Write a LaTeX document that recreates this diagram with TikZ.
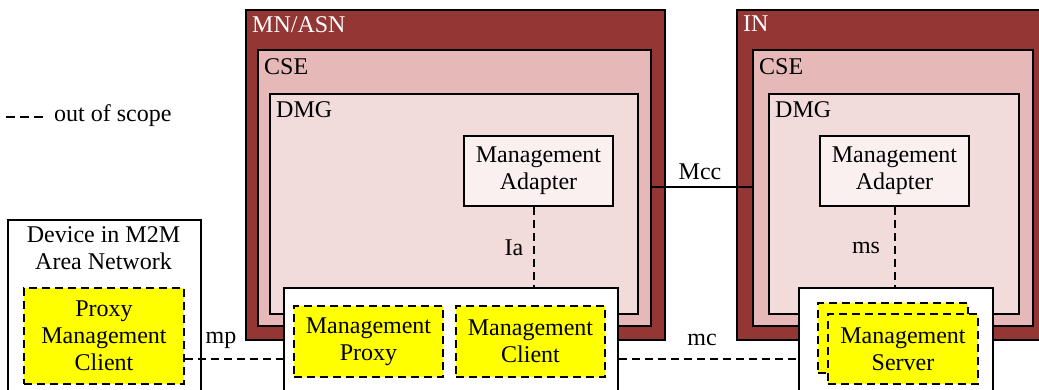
\documentclass[tikz,border=0pt]{standalone}
\usepackage{fontspec}
\setmainfont{Liberation Serif}
\usetikzlibrary{calc}
\definecolor{darkred}{HTML}{943634}
\definecolor{csefill}{HTML}{E6B9B8}
\definecolor{dmgfill}{HTML}{F2DCDB}
\definecolor{adfill}{HTML}{FAF0F0}
\definecolor{yel}{HTML}{FFFF00}
\begin{document}
\begin{tikzpicture}[x=1pt,y=-1pt,
  txt/.style={font=\fontsize{24}{27}\selectfont, inner sep=0pt, align=center},
  frame/.style={draw=black, line width=2pt, rectangle, anchor=north west, inner sep=0pt},
  outer/.style={frame, fill=darkred},
  csebox/.style={frame, fill=csefill},
  dmgbox/.style={frame, fill=dmgfill},
  adbox/.style={frame, fill=adfill, txt},
  whitebox/.style={frame, fill=white},
  ybox/.style={frame, fill=yel, dash pattern=on 8pt off 5pt, txt},
  oos/.style={line width=2pt, dash pattern=on 8pt off 5pt},
  conn/.style={line width=2pt},
  lbl/.style={txt, anchor=north west}
]
\useasboundingbox (0,0) rectangle (1039,389);
\clip (0,0) rectangle (1039,389);
\fill[white] (0,0) rectangle (1039,389);

% legend
\coordinate (lg1) at (6,117);
\coordinate (lg2) at (43,117);
\draw[line width=2pt, dash pattern=on 9pt off 5pt] (lg1) -- (lg2);
\node[txt, anchor=west] (lgt) at (54,116) {out of scope};

% MN/ASN
\node[outer, minimum width=419pt, minimum height=330pt] (mn) at (245,9) {};
\node[lbl, text=white] (mnl) at (252,16) {MN/ASN};
\node[csebox, minimum width=393pt, minimum height=276pt] (cseL) at (257,49) {};
\node[lbl] (csel1) at (264,58) {CSE};
\node[dmgbox, minimum width=368pt, minimum height=220pt] (dmgL) at (269,93) {};
\node[lbl] (dmgl1) at (276,101) {DMG};
\node[adbox, minimum width=149pt, minimum height=70pt, anchor=north west] (maL) at (463,135) {};
\node[txt] (maLt) at (maL.center) {Management\\Adapter};

% IN
\node[outer, minimum width=310pt, minimum height=330pt] (in) at (736,9) {};
\node[lbl, text=white] (inl) at (743,16) {IN};
\node[csebox, minimum width=280pt, minimum height=276pt] (cseR) at (752,49) {};
\node[lbl] (csel2) at (759,58) {CSE};
\node[dmgbox, minimum width=250pt, minimum height=220pt] (dmgR) at (768,93) {};
\node[lbl] (dmgl2) at (775,101) {DMG};
\node[adbox, minimum width=149pt, minimum height=70pt, anchor=north west] (maR) at (819,135) {};
\node[txt] (maRt) at (maR.center) {Management\\Adapter};

% Device box
\node[whitebox, minimum width=193pt, minimum height=200pt] (dev) at (7,219) {};
\node[txt, anchor=north] (devt) at (103.5,226) {Device in M2M\\Area Network};
\node[ybox, minimum width=160pt, minimum height=96pt] (pmc) at (23,287) {};
\node[txt] (pmct) at (pmc.center) {Proxy\\Management\\Client};

% middle bottom box
\node[whitebox, minimum width=334pt, minimum height=150pt] (mid) at (283,287) {};
\node[ybox, minimum width=149pt, minimum height=71pt] (mp) at (293,305) {};
\node[txt] (mpt) at (mp.center) {Management\\Proxy};
\node[ybox, minimum width=149pt, minimum height=71pt] (mcl) at (455,305) {};
\node[txt] (mclt) at (mcl.center) {Management\\Client};

% right bottom box
\node[whitebox, minimum width=194pt, minimum height=150pt] (rb) at (798,287) {};
\node[ybox, minimum width=150pt, minimum height=70pt] (ms1) at (817,302) {};
\node[ybox, minimum width=150pt, minimum height=70pt] (ms2) at (827,313) {};
\node[txt] (mst) at (ms2.center) {Management\\Server};

% connectors
\coordinate (mccy) at (0,187);
\draw[conn] (cseL.east |- mccy) -- (cseR.west |- mccy);
\node[txt] (mccl) at (700,172) {Mcc};

\draw[oos] (maL.south -| 534,0) -- (mid.north -| 534,0);
\node[txt] (ial) at (514,248) {Ia};

\draw[oos] (maR.south) -- (maR.south |- rb.north);
\node[txt] (msl) at (866,248) {ms};

\coordinate (bly) at (0,359);
\draw[oos] (pmc.east |- bly) -- (mid.west |- bly);
\node[txt] (mpl) at (221,340) {mp};
\draw[oos] (mid.east |- bly) -- (rb.west |- bly);
\node[txt] (mcl2) at (702,340) {mc};
\end{tikzpicture}
\end{document}
